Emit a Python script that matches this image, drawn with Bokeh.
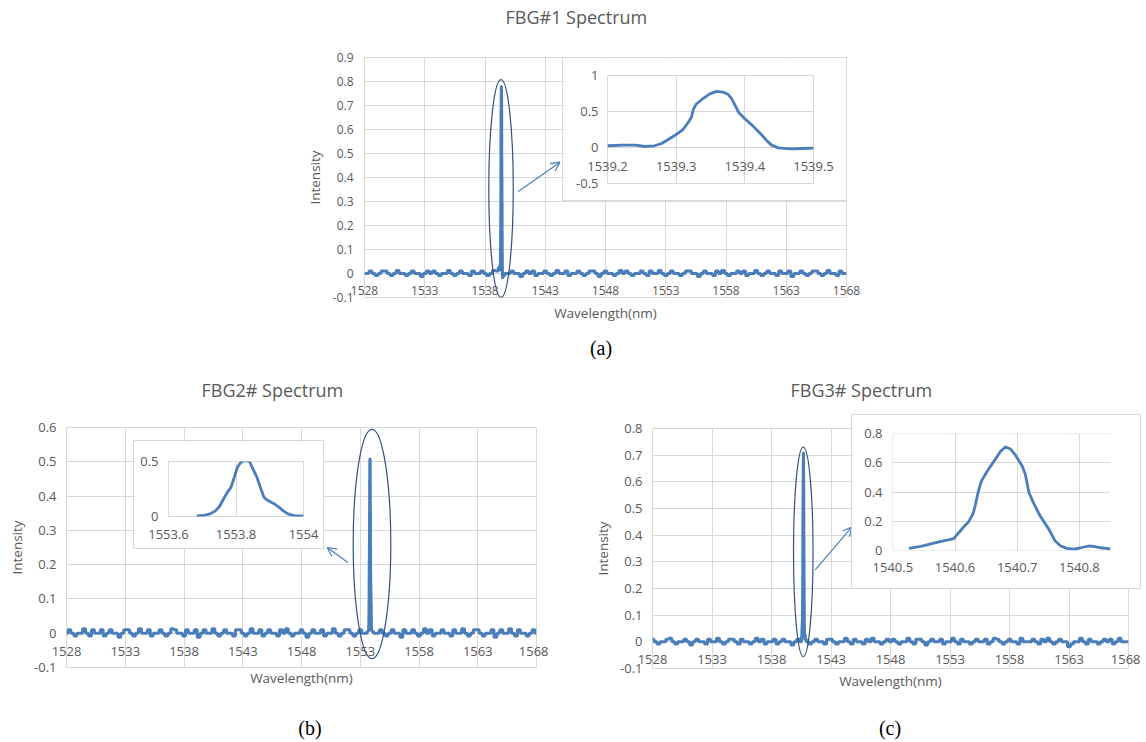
import numpy as np
from bokeh.plotting import figure
from bokeh.models import LinearAxis, FixedTicker, Grid, Range1d, Arrow, OpenHead, Div
from bokeh.embed import file_html
from bokeh.resources import INLINE

# ---------------- data ----------------
X_TICKS = [1528, 1533, 1538, 1543, 1548, 1553, 1558, 1563, 1568]
NOISE_START, NOISE_END, NOISE_STEP = 1528.0, 1568.0, 0.25

A_Y_TICKS = [-0.1, 0, 0.1, 0.2, 0.3, 0.4, 0.5, 0.6, 0.7, 0.8, 0.9]
A_Y_LABELS = ["-0.1", "0", "0.1", "0.2", "0.3", "0.4", "0.5", "0.6", "0.7", "0.8", "0.9"]
B_Y_TICKS = [-0.1, 0, 0.1, 0.2, 0.3, 0.4, 0.5, 0.6]
B_Y_LABELS = ["-0.1", "0", "0.1", "0.2", "0.3", "0.4", "0.5", "0.6"]
C_Y_TICKS = [-0.1, 0, 0.1, 0.2, 0.3, 0.4, 0.5, 0.6, 0.7, 0.8]
C_Y_LABELS = ["-0.1", "0", "0.1", "0.2", "0.3", "0.4", "0.5", "0.6", "0.7", "0.8"]

NOISE_A = [0.000, 0.000, 0.010, 0.000, -0.008, 0.000, 0.010, 0.010, 0.000, -0.008,
           0.000, 0.013, 0.000, 0.000, -0.008, 0.000, 0.010, 0.000, 0.000, -0.012,
           0.000, 0.010, 0.000, 0.010, 0.000, -0.008, 0.000, 0.000, 0.013, 0.000,
           -0.008, 0.000, 0.010, 0.000, 0.000, -0.008, 0.010, 0.000, 0.000, 0.010,
           0.000, -0.008, 0.000, 0.013, 0.010, 0.000, -0.008, 0.000, 0.000, 0.010,
           0.000, 0.000, -0.012, 0.000, 0.010, 0.000, 0.010, -0.008, 0.000, 0.000,
           0.010, 0.000, -0.008, 0.000, 0.013, 0.000, 0.000, 0.010, -0.008, 0.000,
           0.000, 0.010, 0.000, -0.008, 0.000, 0.010, 0.010, 0.000, -0.012, 0.000,
           0.010, 0.000, 0.000, -0.008, 0.000, 0.013, 0.000, 0.010, 0.000, -0.008,
           0.000, 0.000, 0.010, 0.000, -0.008, 0.010, 0.000, 0.000, 0.013, 0.000,
           -0.008, 0.000, 0.010, 0.000, 0.000, -0.008, 0.000, 0.010, 0.010, 0.000,
           0.000, -0.012, 0.000, 0.010, 0.000, 0.000, -0.008, 0.010, 0.000, 0.013,
           0.000, -0.008, 0.000, 0.000, 0.010, 0.000, 0.010, -0.008, 0.000, 0.000,
           0.013, 0.000, -0.008, 0.000, 0.010, 0.000, 0.000, -0.008, 0.010, 0.000,
           0.000, 0.010, -0.012, 0.000, 0.000, 0.010, 0.000, -0.008, 0.000, 0.010,
           0.010, 0.000, -0.008, 0.000, 0.013, 0.000, 0.000, -0.008, 0.010, 0.000,
           0.000]
NOISE_B = [0.000, 0.010, 0.000, -0.008, 0.000, 0.000, 0.013, 0.000, -0.008, 0.010,
           0.000, 0.000, 0.010, -0.008, 0.000, 0.010, 0.000, 0.000, -0.012, 0.000,
           0.010, 0.010, 0.000, -0.008, 0.000, 0.013, 0.000, 0.000, 0.010, -0.008,
           0.000, 0.000, 0.010, 0.000, -0.008, 0.000, 0.013, 0.010, 0.000, 0.000,
           -0.008, 0.010, 0.000, 0.000, 0.010, -0.012, 0.000, 0.010, 0.000, 0.000,
           0.013, 0.000, -0.008, 0.000, 0.010, 0.000, 0.000, -0.008, 0.010, 0.010,
           0.000, -0.008, 0.000, 0.013, 0.000, 0.000, 0.010, -0.008, 0.000, 0.010,
           0.000, 0.000, -0.008, 0.010, 0.000, 0.013, 0.000, -0.008, 0.000, 0.000,
           0.010, 0.000, -0.012, 0.000, 0.010, 0.000, 0.000, 0.010, -0.008, 0.000,
           0.000, 0.013, 0.000, -0.008, 0.000, 0.010, 0.010, 0.000, -0.008, 0.000,
           0.010, 0.000, 0.000, -0.008, 0.013, 0.000, 0.000, 0.010, 0.000, -0.008,
           0.000, 0.010, 0.000, 0.000, -0.012, 0.010, 0.000, 0.000, 0.010, 0.000,
           -0.008, 0.000, 0.013, 0.000, 0.010, -0.008, 0.000, 0.000, 0.010, 0.000,
           0.000, -0.008, 0.010, 0.000, 0.000, 0.013, 0.000, -0.008, 0.000, 0.010,
           0.010, 0.000, -0.008, 0.000, 0.000, 0.010, -0.012, 0.000, 0.010, 0.000,
           0.000, 0.013, 0.000, -0.008, 0.010, 0.000, 0.000, -0.008, 0.000, 0.010,
           0.000]
NOISE_C = [0.010, 0.000, -0.008, 0.000, 0.000, 0.010, 0.013, 0.000, -0.008, 0.000,
           0.000, 0.010, 0.000, -0.012, 0.000, 0.010, 0.000, 0.000, -0.008, 0.010,
           0.000, 0.000, 0.013, 0.000, -0.008, 0.000, 0.010, 0.010, 0.000, -0.008,
           0.010, 0.000, 0.000, -0.008, 0.000, 0.013, 0.000, 0.010, -0.008, 0.000,
           0.000, 0.010, -0.008, 0.000, 0.010, 0.000, 0.000, -0.012, 0.000, 0.010,
           0.000, 0.013, 0.000, -0.008, 0.000, 0.010, 0.000, 0.000, -0.008, 0.010,
           0.010, 0.000, -0.008, 0.000, 0.000, 0.013, 0.000, -0.008, 0.010, 0.000,
           0.000, -0.008, 0.010, 0.000, 0.013, 0.000, 0.000, -0.008, 0.000, 0.010,
           0.000, 0.010, 0.000, -0.008, 0.000, 0.000, 0.013, 0.000, -0.008, 0.010,
           0.010, 0.000, -0.012, 0.000, 0.010, 0.000, 0.000, 0.010, -0.008, 0.000,
           0.000, 0.013, 0.000, -0.008, 0.010, 0.000, 0.000, -0.008, 0.000, 0.010,
           0.000, 0.000, 0.010, -0.008, 0.000, 0.013, 0.010, 0.000, -0.008, 0.000,
           0.010, 0.000, 0.000, -0.008, 0.013, 0.000, 0.000, 0.000, 0.010, 0.000,
           -0.008, 0.010, 0.000, 0.013, 0.000, -0.008, 0.000, 0.010, 0.000, 0.000,
           -0.018, -0.008, 0.000, 0.000, 0.013, 0.000, -0.008, 0.010, 0.000, 0.000,
           -0.008, 0.000, 0.010, 0.000, 0.010, -0.008, 0.000, 0.013, 0.000, 0.000,
           0.000]

# peak (inset) data
A_IN_X = [1539.200, 1539.222, 1539.241, 1539.254, 1539.268, 1539.278, 1539.288, 1539.300,
          1539.310, 1539.317, 1539.322, 1539.325, 1539.329, 1539.339, 1539.349, 1539.359,
          1539.368, 1539.376, 1539.381, 1539.386, 1539.391, 1539.400, 1539.412, 1539.424,
          1539.433, 1539.439, 1539.449, 1539.466, 1539.485, 1539.500]
A_IN_Y = [0.024, 0.033, 0.033, 0.014, 0.024, 0.052, 0.108, 0.180,
          0.250, 0.340, 0.415, 0.530, 0.600, 0.680, 0.745, 0.780,
          0.770, 0.735, 0.675, 0.580, 0.486, 0.400, 0.297, 0.180,
          0.085, 0.033, -0.005, -0.019, -0.014, -0.009]
B_IN_X = [1553.684, 1553.704, 1553.723, 1553.738, 1553.751, 1553.763, 1553.773, 1553.785,
          1553.795, 1553.804, 1553.815, 1553.827, 1553.840, 1553.850, 1553.862, 1553.874,
          1553.883, 1553.896, 1553.911, 1553.926, 1553.941, 1553.956, 1553.975, 1554.000]
B_IN_Y = [0.006, 0.009, 0.024, 0.049, 0.091, 0.159, 0.213, 0.265,
          0.357, 0.448, 0.494, 0.509, 0.500, 0.433, 0.357, 0.250,
          0.174, 0.143, 0.119, 0.088, 0.049, 0.021, 0.006, 0.006]
C_IN_X = [1540.526, 1540.545, 1540.566, 1540.585, 1540.598, 1540.606, 1540.614, 1540.622,
          1540.629, 1540.633, 1540.637, 1540.642, 1540.652, 1540.663, 1540.673, 1540.681,
          1540.689, 1540.697, 1540.708, 1540.713, 1540.719, 1540.726, 1540.737, 1540.751,
          1540.761, 1540.770, 1540.780, 1540.791, 1540.802, 1540.815, 1540.823, 1540.834, 1540.850]
C_IN_Y = [0.014, 0.027, 0.050, 0.069, 0.080, 0.121, 0.160, 0.197,
          0.251, 0.315, 0.395, 0.471, 0.544, 0.613, 0.677, 0.709,
          0.695, 0.654, 0.578, 0.521, 0.395, 0.327, 0.235, 0.144,
          0.064, 0.030, 0.014, 0.009, 0.018, 0.030, 0.027, 0.018, 0.011]

A_IN_XT = [1539.2, 1539.3, 1539.4, 1539.5]
A_IN_XL = ["1539.2", "1539.3", "1539.4", "1539.5"]
A_IN_YT = [-0.5, 0, 0.5, 1]
A_IN_YL = ["-0.5", "0", "0.5", "1"]
B_IN_XT = [1553.6, 1553.8, 1554.0]
B_IN_XL = ["1553.6", "1553.8", "1554"]
B_IN_YT = [0, 0.5]
B_IN_YL = ["0", "0.5"]
C_IN_XT = [1540.5, 1540.6, 1540.7, 1540.8]
C_IN_XL = ["1540.5", "1540.6", "1540.7", "1540.8"]
C_IN_YT = [0, 0.2, 0.4, 0.6, 0.8]
C_IN_YL = ["0", "0.2", "0.4", "0.6", "0.8"]

# ---------------- styles ----------------
FONT = "Open Sans"
TXT = "#595959"
GRIDC = "#d9d9d9"
BLUE = "#4a7ebb"
ELLC = "#34507a"


def merged(noise, px, py):
    gx = np.round(np.arange(NOISE_START, NOISE_END + 1e-9, NOISE_STEP), 3)
    pts = [(x, y) for x, y in zip(gx, noise) if x < px[0] or x > px[-1]]
    pts += list(zip(px, py))
    pts.sort()
    return [p[0] for p in pts], [p[1] for p in pts]


def main_plot(title, t_off, t_stand, yr, yticks, ylabels, xs, ys, frame, borders,
              fs, ylab_st, yax_st, xlab_st, wl_st):
    fx, fy, fw, fh = frame
    ml, mr, mt, mb = borders
    p = figure(width=ml + fw + mr, height=mt + fh + mb,
               x_range=Range1d(1528, 1568), y_range=Range1d(*yr),
               x_axis_type=None, y_axis_type=None, toolbar_location=None, tools="",
               output_backend="svg", title=title,
               min_border_left=ml, min_border_right=mr, min_border_top=mt, min_border_bottom=mb,
               background_fill_color="white", border_fill_color=None,
               outline_line_color=GRIDC,
               styles={"position": "absolute", "left": f"{fx - ml}px", "top": f"{fy - mt}px"})
    p.title.align = "left"
    p.title.offset = t_off
    p.title.standoff = t_stand
    p.title.text_font = FONT
    p.title.text_font_size = "18px"
    p.title.text_font_style = "normal"
    p.title.text_color = TXT

    p.add_layout(Grid(dimension=0, ticker=FixedTicker(ticks=X_TICKS), grid_line_color=GRIDC))
    p.add_layout(Grid(dimension=1, ticker=FixedTicker(ticks=yticks), grid_line_color=GRIDC))

    ya = LinearAxis(ticker=FixedTicker(ticks=yticks),
                    major_label_overrides=dict(zip(yticks, ylabels)),
                    axis_label="Intensity", axis_label_standoff=yax_st,
                    axis_label_text_font=FONT, axis_label_text_font_size="13.5px",
                    axis_label_text_font_style="normal", axis_label_text_color=TXT,
                    major_label_text_font=FONT, major_label_text_font_size=fs,
                    major_label_text_color=TXT, major_label_standoff=ylab_st,
                    axis_line_color=None, major_tick_line_color=None, minor_tick_line_color=None,
                    major_tick_in=0, major_tick_out=0)
    p.add_layout(ya, "left")

    # tick labels sit just under the zero line (negative standoff pulls them into the frame)
    xa = LinearAxis(ticker=FixedTicker(ticks=X_TICKS),
                    axis_label="Wavelength(nm)", axis_label_standoff=wl_st,
                    axis_label_text_font=FONT, axis_label_text_font_size="13.5px",
                    axis_label_text_font_style="normal", axis_label_text_color=TXT,
                    major_label_text_font=FONT, major_label_text_font_size=fs,
                    major_label_text_color=TXT, major_label_standoff=xlab_st,
                    axis_line_color=None, major_tick_line_color=None, minor_tick_line_color=None,
                    major_tick_in=0, major_tick_out=0)
    p.add_layout(xa, "below")

    p.step(xs, ys, mode="center", line_color=BLUE, line_width=3)
    return p


def inset_plot(xr, yr, xt, xl, yt, yl, xs, ys, box, frame_size, borders,
               outline, xst, yst):
    bx, by = box
    fw, fh = frame_size
    ml, mr, mt, mb = borders
    p = figure(width=ml + fw + mr, height=mt + fh + mb,
               x_range=Range1d(*xr), y_range=Range1d(*yr),
               x_axis_type=None, y_axis_type=None, toolbar_location=None, tools="",
               output_backend="svg",
               min_border_left=ml, min_border_right=mr, min_border_top=mt, min_border_bottom=mb,
               background_fill_color="white", border_fill_color="white",
               outline_line_color=GRIDC if outline else None,
               styles={"position": "absolute", "left": f"{bx}px", "top": f"{by}px",
                       "outline": "1px solid #d9d9d9"})
    p.add_layout(Grid(dimension=0, ticker=FixedTicker(ticks=xt), grid_line_color=GRIDC))
    p.add_layout(Grid(dimension=1, ticker=FixedTicker(ticks=yt), grid_line_color=GRIDC))
    ya = LinearAxis(ticker=FixedTicker(ticks=yt), major_label_overrides=dict(zip(yt, yl)),
                    major_label_text_font=FONT, major_label_text_font_size="13px",
                    major_label_text_color=TXT, major_label_standoff=yst,
                    axis_line_color=None, major_tick_line_color=None, minor_tick_line_color=None,
                    major_tick_in=0, major_tick_out=0)
    p.add_layout(ya, "left")
    xa = LinearAxis(ticker=FixedTicker(ticks=xt), major_label_overrides=dict(zip(xt, xl)),
                    major_label_text_font=FONT, major_label_text_font_size="13px",
                    major_label_text_color=TXT, major_label_standoff=xst,
                    axis_line_color=None, major_tick_line_color=None, minor_tick_line_color=None,
                    major_tick_in=0, major_tick_out=0)
    p.add_layout(xa, "below")
    p.line(xs, ys, line_color=BLUE, line_width=2.8, line_join="round")
    return p


def decorate(p, ell, arrow):
    cx, cy, w, h = ell
    p.ellipse(x=[cx], y=[cy], width=[w], height=[h], fill_color=None,
              line_color=ELLC, line_width=1.2)
    x0, y0, x1, y1 = arrow
    p.add_layout(Arrow(end=OpenHead(size=9, line_color=BLUE, line_width=1.2),
                       x_start=x0, y_start=y0, x_end=x1, y_end=y1,
                       line_color=BLUE, line_width=1.2))


def caption(text, cx, cy):
    return Div(text=text, width=40, height=24,
               styles={"position": "absolute", "left": f"{cx - 20}px", "top": f"{cy - 17}px",
                       "font-family": "Liberation Serif", "font-size": "20px",
                       "line-height": "24px", "text-align": "center", "color": "black"})


# ---------------- panel (a) ----------------
xa_, ya_ = merged(NOISE_A, A_IN_X, A_IN_Y)
pa = main_plot("FBG#1 Spectrum", 141, 58, (-0.1, 0.9), A_Y_TICKS, A_Y_LABELS, xa_, ya_,
               (364, 57, 482, 240), (70, 16, 90, 30), "12px", 11, 6, -12, 6)
decorate(pa, (1539.33, 0.354, 2.03, 0.908), (1540.76, 0.342, 1544.22, 0.464))
ia = inset_plot((1539.2, 1539.5), (-0.5, 1.0), A_IN_XT, A_IN_XL, A_IN_YT, A_IN_YL,
                A_IN_X, A_IN_Y, (563, 58), (206, 108), (44, 33, 17, 17), True, -22, 9)

# ---------------- panel (b) ----------------
xb_, yb_ = merged(NOISE_B, B_IN_X, B_IN_Y)
pb = main_plot("FBG2# Spectrum", 135, 51, (-0.1, 0.6), B_Y_TICKS, B_Y_LABELS, xb_, yb_,
               (65, 427, 471, 240), (60, 12, 84, 30), "13px", 10, 5, -21, 10)
decorate(pb, (1554.0, 0.26, 3.2, 0.67), (1551.95, 0.206, 1550.19, 0.25))
ib = inset_plot((1553.6, 1554.0), (0, 0.5), B_IN_XT, B_IN_XL, B_IN_YT, B_IN_YL,
                B_IN_X, B_IN_Y, (134, 441), (135, 55), (34, 20, 20, 32), True, 13, 10)

# ---------------- panel (c) ----------------
xc_, yc_ = merged(NOISE_C, C_IN_X, C_IN_Y)
pc = main_plot("FBG3# Spectrum", 138, 53, (-0.1, 0.8), C_Y_TICKS, C_Y_LABELS, xc_, yc_,
               (651, 428, 477, 240), (60, 12, 86, 30), "13px", 10, 5, -14, 5)
decorate(pc, (1540.67, 0.3375, 1.64, 0.785), (1541.67, 0.27, 1544.75, 0.43))
ic = inset_plot((1540.4995, 1540.85), (-0.0008, 0.8008), C_IN_XT, C_IN_XL, C_IN_YT, C_IN_YL,
                C_IN_X, C_IN_Y, (852, 415), (218, 117), (40, 30, 18, 38), False, 12, 10)

ca = caption("(a)", 596, 348)
cb = caption("(b)", 305, 728)
cc = caption("(c)", 885, 728)

roots = [pa, ia, pb, ib, pc, ic, ca, cb, cc]
open("out.html", "w").write(file_html(roots, INLINE))
